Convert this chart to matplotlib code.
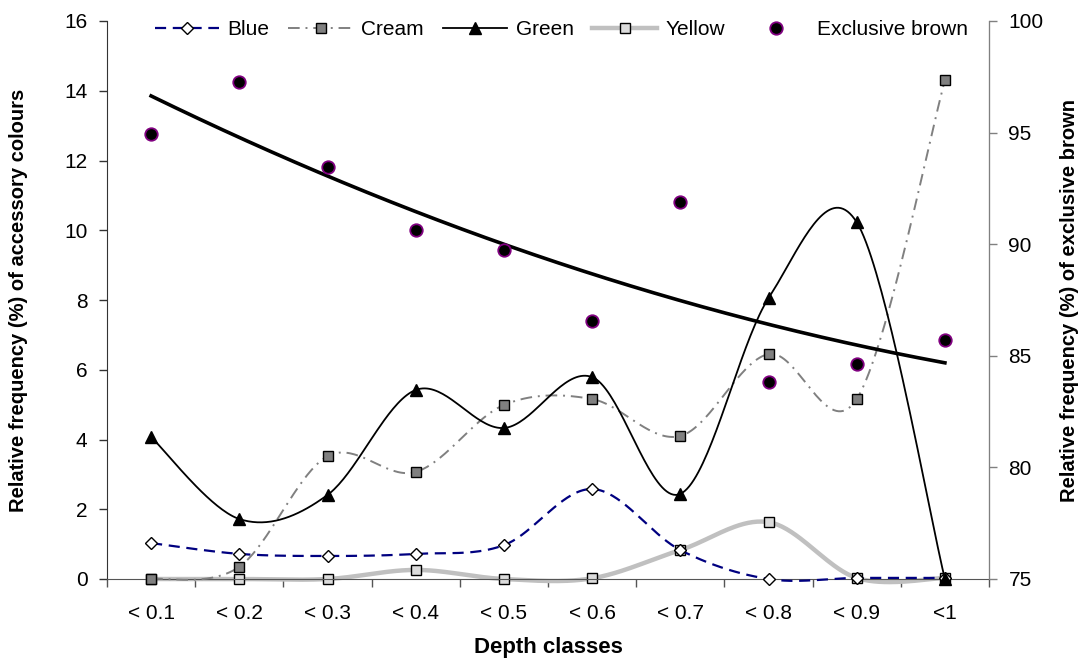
import matplotlib
matplotlib.use("Agg")
import matplotlib.pyplot as plt
import numpy as np

plt.rcParams['font.family'] = ['Liberation Sans', 'DejaVu Sans']

# data
classes = ['< 0.1', '< 0.2', '< 0.3', '< 0.4', '< 0.5', '< 0.6', '< 0.7', '< 0.8', '< 0.9', '<1']
blue = [1.03, 0.72, 0.66, 0.72, 0.97, 2.58, 0.83, 0.0, 0.03, 0.03]
cream = [0.0, 0.35, 3.52, 3.07, 4.99, 5.16, 4.10, 6.45, 5.16, 14.3]
green = [4.07, 1.72, 2.41, 5.42, 4.33, 5.79, 2.44, 8.05, 10.23, 0.0]
yellow = [0.0, 0.0, 0.0, 0.26, 0.0, 0.02, 0.83, 1.63, 0.03, 0.03]
brown = [94.94, 97.27, 93.46, 90.64, 89.74, 86.56, 91.89, 83.83, 84.63, 85.7]


def smooth(x, y, n=40):
    # excel style smoothed line (catmull-rom as cubic bezier)
    x = np.asarray(x, float)
    y = np.asarray(y, float)
    px = np.concatenate([[x[0]], x, [x[-1]]])
    py = np.concatenate([[y[0]], y, [y[-1]]])
    t = np.linspace(0, 1, n)
    xs, ys = [], []
    for i in range(len(x) - 1):
        p0 = np.array([px[i], py[i]])
        p1 = np.array([px[i + 1], py[i + 1]])
        p2 = np.array([px[i + 2], py[i + 2]])
        p3 = np.array([px[i + 3], py[i + 3]])
        c1 = p1 + (p2 - p0) / 6
        c2 = p2 - (p3 - p1) / 6
        b = ((1 - t) ** 3)[:, None] * p1 + (3 * (1 - t) ** 2 * t)[:, None] * c1 \
            + (3 * (1 - t) * t ** 2)[:, None] * c2 + (t ** 3)[:, None] * p2
        xs.append(b[:, 0])
        ys.append(b[:, 1])
    return np.concatenate(xs), np.concatenate(ys)


x = np.arange(1, len(classes) + 1)

fig = plt.figure(figsize=(10.85, 6.61), dpi=100)
ax = fig.add_axes([107 / 1085, 82 / 661, 882 / 1085, 558 / 661])
ax2 = ax.twinx()

styles = [
    ('Yellow', yellow, dict(color='#c0c0c0', lw=3.2, ls='-'),
     dict(marker='s', ms=6.5, mfc='#dcdcdc', mec='#000000', mew=1.0), 2),
    ('Blue', blue, dict(color='#000080', lw=1.6, ls=(0, (5, 3))),
     dict(marker='D', ms=6.5, mfc='white', mec='#000000', mew=1.0), 3),
    ('Cream', cream, dict(color='#808080', lw=1.4, ls=(0, (6, 3, 1, 3))),
     dict(marker='s', ms=6.5, mfc='#808080', mec='#000000', mew=1.0), 4),
    ('Green', green, dict(color='#000000', lw=1.3, ls='-'),
     dict(marker='^', ms=8, mfc='#000000', mec='#000000', mew=1.0), 5),
]

handles = {}
for name, vals, lstyle, mstyle, z in styles:
    sx, sy = smooth(x, vals)
    ax.plot(sx, sy, zorder=z, clip_on=False, **lstyle)
    ax.plot(x, vals, ls='none', zorder=z + 0.5, clip_on=False, **mstyle)
    handles[name] = plt.Line2D([], [], **lstyle, **mstyle)

# exclusive brown on secondary axis + 2nd order trend line
coef = np.polyfit(x, brown, 2)
tx = np.linspace(x[0], x[-1], 200)
ax2.plot(tx, np.polyval(coef, tx), color='black', lw=2.6, zorder=3)
ax2.plot(x, brown, ls='none', marker='o', ms=9, mfc='black', mec='#800080',
         mew=1.3, zorder=4)
handles['Exclusive brown'] = plt.Line2D([], [], ls='none', marker='o', ms=9,
                                        mfc='black', mec='#800080', mew=1.3)

ax.set_xlim(0.5, 10.5)
ax.set_ylim(0, 16)
ax2.set_ylim(75, 100)
ax.set_yticks(np.arange(0, 17, 2))
ax2.set_yticks(np.arange(75, 101, 5))

ax.set_xticks(x)
ax.set_xticklabels(classes)
ax.set_xticks(np.arange(0.5, 11, 1), minor=True)
ax.tick_params(axis='x', which='major', length=0, pad=18, labelsize=15)
ax.tick_params(axis='x', which='minor', length=6, width=1, color='#555555')
ax.tick_params(axis='y', length=6, width=1, color='#333333', labelsize=15, pad=8)
ax2.tick_params(axis='y', length=6, width=1, color='#808080', labelsize=15, pad=8)

for a in (ax, ax2):
    a.spines['top'].set_visible(False)
ax.spines['left'].set_color('#333333')
ax.spines['bottom'].set_color('#555555')
ax2.spines['right'].set_color('#808080')
ax2.spines['left'].set_visible(False)
ax2.spines['bottom'].set_visible(False)

ax.set_xlabel('Depth classes', fontsize=16, fontweight='bold', labelpad=10)
ax.set_ylabel('Relative frequency (%) of accessory colours', fontsize=14.5,
              fontweight='bold', labelpad=26)
ax2.set_ylabel('Relative frequency (%) of exclusive brown', fontsize=14.5,
               fontweight='bold', labelpad=12)

order = ['Blue', 'Cream', 'Green', 'Yellow', 'Exclusive brown']
ax2.legend([handles[k] for k in order], order, loc='upper center',
           bbox_to_anchor=(0.515, 1.035), ncol=5, frameon=False, fontsize=15,
           handlelength=3.1, handletextpad=0.4, columnspacing=0.9)

fig.savefig('out.png', dpi=100)
